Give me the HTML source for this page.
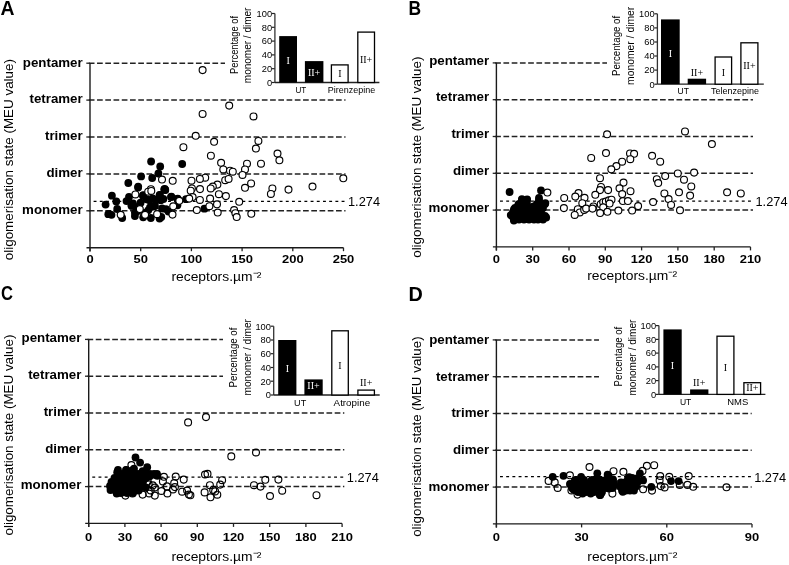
<!DOCTYPE html>
<html><head><meta charset="utf-8"><style>
html,body{margin:0;padding:0;background:#fff;width:789px;height:565px;overflow:hidden}
svg{display:block;will-change:transform}
</style></head><body>
<svg width="789" height="565" viewBox="0 0 789 565">
<rect width="789" height="565" fill="#fff"/>
<text x="0.5" y="14.9" font-size="19.6" font-weight="bold" text-anchor="start" fill="#000" font-family='"Liberation Sans", sans-serif' textLength="14" lengthAdjust="spacingAndGlyphs" >A</text>
<text x="13.2" y="260.2" font-size="13.6" font-weight="normal" text-anchor="start" fill="#000" font-family='"Liberation Sans", sans-serif' textLength="201.2" lengthAdjust="spacingAndGlyphs" transform="rotate(-90 13.2 260.2)" >oligomerisation state (MEU value)</text>
<text x="82.7" y="214.1" font-size="13.3" font-weight="bold" text-anchor="end" fill="#000" font-family='"Liberation Sans", sans-serif' >monomer</text>
<line x1="86.3" y1="210.8" x2="90.0" y2="210.8" stroke="#222" stroke-width="1.3"/>
<line x1="88.8" y1="210.8" x2="345.5" y2="210.8" stroke="#222" stroke-width="1.5" stroke-dasharray="5.7 2.54"/>
<text x="82.7" y="177.2" font-size="13.3" font-weight="bold" text-anchor="end" fill="#000" font-family='"Liberation Sans", sans-serif' >dimer</text>
<line x1="86.3" y1="173.9" x2="90.0" y2="173.9" stroke="#222" stroke-width="1.3"/>
<line x1="88.8" y1="173.9" x2="345.5" y2="173.9" stroke="#222" stroke-width="1.5" stroke-dasharray="5.7 2.54"/>
<text x="82.7" y="140.3" font-size="13.3" font-weight="bold" text-anchor="end" fill="#000" font-family='"Liberation Sans", sans-serif' >trimer</text>
<line x1="86.3" y1="137.0" x2="90.0" y2="137.0" stroke="#222" stroke-width="1.3"/>
<line x1="88.8" y1="137.0" x2="345.5" y2="137.0" stroke="#222" stroke-width="1.5" stroke-dasharray="5.7 2.54"/>
<text x="82.7" y="103.4" font-size="13.3" font-weight="bold" text-anchor="end" fill="#000" font-family='"Liberation Sans", sans-serif' >tetramer</text>
<line x1="86.3" y1="100.1" x2="90.0" y2="100.1" stroke="#222" stroke-width="1.3"/>
<line x1="88.8" y1="100.1" x2="345.5" y2="100.1" stroke="#222" stroke-width="1.5" stroke-dasharray="5.7 2.54"/>
<text x="82.7" y="66.5" font-size="13.3" font-weight="bold" text-anchor="end" fill="#000" font-family='"Liberation Sans", sans-serif' >pentamer</text>
<line x1="86.3" y1="63.2" x2="90.0" y2="63.2" stroke="#222" stroke-width="1.3"/>
<line x1="88.8" y1="63.2" x2="225.0" y2="63.2" stroke="#222" stroke-width="1.5" stroke-dasharray="5.7 2.54"/>
<line x1="93.6" y1="201.3" x2="345.5" y2="201.3" stroke="#000" stroke-width="1.25" stroke-dasharray="2.9 3.3"/>
<text x="348.0" y="206.3" font-size="12.8" font-weight="normal" text-anchor="start" fill="#000" font-family='"Liberation Sans", sans-serif' textLength="32" lengthAdjust="spacingAndGlyphs" >1.274</text>
<line x1="90.0" y1="63.2" x2="90.0" y2="251.4" stroke="#1a1a1a" stroke-width="1.4"/>
<line x1="86.5" y1="247.7" x2="343.5" y2="247.7" stroke="#1a1a1a" stroke-width="1.4"/>
<line x1="90.0" y1="247.7" x2="90.0" y2="251.2" stroke="#222" stroke-width="1.3"/>
<text x="90.0" y="263.3" font-size="11.8" font-weight="bold" text-anchor="middle" fill="#000" font-family='"Liberation Sans", sans-serif' textLength="7.2" lengthAdjust="spacingAndGlyphs" >0</text>
<line x1="140.7" y1="247.7" x2="140.7" y2="251.2" stroke="#222" stroke-width="1.3"/>
<text x="140.7" y="263.3" font-size="11.8" font-weight="bold" text-anchor="middle" fill="#000" font-family='"Liberation Sans", sans-serif' textLength="14.4" lengthAdjust="spacingAndGlyphs" >50</text>
<line x1="191.4" y1="247.7" x2="191.4" y2="251.2" stroke="#222" stroke-width="1.3"/>
<text x="191.4" y="263.3" font-size="11.8" font-weight="bold" text-anchor="middle" fill="#000" font-family='"Liberation Sans", sans-serif' textLength="21.6" lengthAdjust="spacingAndGlyphs" >100</text>
<line x1="242.1" y1="247.7" x2="242.1" y2="251.2" stroke="#222" stroke-width="1.3"/>
<text x="242.1" y="263.3" font-size="11.8" font-weight="bold" text-anchor="middle" fill="#000" font-family='"Liberation Sans", sans-serif' textLength="21.6" lengthAdjust="spacingAndGlyphs" >150</text>
<line x1="292.8" y1="247.7" x2="292.8" y2="251.2" stroke="#222" stroke-width="1.3"/>
<text x="292.8" y="263.3" font-size="11.8" font-weight="bold" text-anchor="middle" fill="#000" font-family='"Liberation Sans", sans-serif' textLength="21.6" lengthAdjust="spacingAndGlyphs" >200</text>
<line x1="343.5" y1="247.7" x2="343.5" y2="251.2" stroke="#222" stroke-width="1.3"/>
<text x="343.5" y="263.3" font-size="11.8" font-weight="bold" text-anchor="middle" fill="#000" font-family='"Liberation Sans", sans-serif' textLength="21.6" lengthAdjust="spacingAndGlyphs" >250</text>
<text x="171.4" y="280.6" font-size="13.2" font-weight="normal" text-anchor="start" fill="#000" font-family='"Liberation Sans", sans-serif' textLength="90" lengthAdjust="spacingAndGlyphs" >receptors.µm⁻²</text>
<circle cx="138.0" cy="207.0" r="3.9" fill="#000"/>
<circle cx="162.0" cy="208.5" r="3.9" fill="#000"/>
<circle cx="155.0" cy="206.0" r="3.9" fill="#000"/>
<circle cx="144.0" cy="213.0" r="3.9" fill="#000"/>
<circle cx="129.0" cy="197.0" r="3.9" fill="#000"/>
<circle cx="133.0" cy="203.5" r="3.9" fill="#000"/>
<circle cx="151.1" cy="161.5" r="3.9" fill="#000"/>
<circle cx="160.2" cy="166.4" r="3.9" fill="#000"/>
<circle cx="158.4" cy="173.5" r="3.9" fill="#000"/>
<circle cx="141.1" cy="176.4" r="3.9" fill="#000"/>
<circle cx="152.2" cy="178.0" r="3.9" fill="#000"/>
<circle cx="128.3" cy="183.0" r="3.9" fill="#000"/>
<circle cx="138.2" cy="186.6" r="3.9" fill="#000"/>
<circle cx="164.7" cy="188.8" r="3.9" fill="#000"/>
<circle cx="111.9" cy="195.7" r="3.9" fill="#000"/>
<circle cx="116.3" cy="201.5" r="3.9" fill="#000"/>
<circle cx="105.6" cy="204.6" r="3.9" fill="#000"/>
<circle cx="126.5" cy="201.1" r="3.9" fill="#000"/>
<circle cx="142.9" cy="195.7" r="3.9" fill="#000"/>
<circle cx="159.8" cy="194.8" r="3.9" fill="#000"/>
<circle cx="164.2" cy="189.5" r="3.9" fill="#000"/>
<circle cx="160.7" cy="200.2" r="3.9" fill="#000"/>
<circle cx="152.7" cy="198.4" r="3.9" fill="#000"/>
<circle cx="131.4" cy="205.5" r="3.9" fill="#000"/>
<circle cx="117.2" cy="209.0" r="3.9" fill="#000"/>
<circle cx="109.2" cy="213.9" r="3.9" fill="#000"/>
<circle cx="134.9" cy="212.6" r="3.9" fill="#000"/>
<circle cx="150.0" cy="207.3" r="3.9" fill="#000"/>
<circle cx="146.5" cy="199.3" r="3.9" fill="#000"/>
<circle cx="108.3" cy="214.2" r="3.9" fill="#000"/>
<circle cx="111.5" cy="214.8" r="3.9" fill="#000"/>
<circle cx="122.2" cy="218.0" r="3.9" fill="#000"/>
<circle cx="131.8" cy="205.9" r="3.9" fill="#000"/>
<circle cx="134.9" cy="216.1" r="3.9" fill="#000"/>
<circle cx="138.1" cy="187.5" r="3.9" fill="#000"/>
<circle cx="143.2" cy="195.1" r="3.9" fill="#000"/>
<circle cx="140.6" cy="202.7" r="3.9" fill="#000"/>
<circle cx="136.8" cy="211.6" r="3.9" fill="#000"/>
<circle cx="149.5" cy="200.2" r="3.9" fill="#000"/>
<circle cx="153.3" cy="206.5" r="3.9" fill="#000"/>
<circle cx="148.2" cy="210.3" r="3.9" fill="#000"/>
<circle cx="143.2" cy="217.3" r="3.9" fill="#000"/>
<circle cx="150.8" cy="218.0" r="3.9" fill="#000"/>
<circle cx="159.6" cy="218.6" r="3.9" fill="#000"/>
<circle cx="159.6" cy="195.1" r="3.9" fill="#000"/>
<circle cx="165.3" cy="190.1" r="3.9" fill="#000"/>
<circle cx="163.4" cy="199.0" r="3.9" fill="#000"/>
<circle cx="171.0" cy="197.0" r="3.9" fill="#000"/>
<circle cx="155.8" cy="200.2" r="3.9" fill="#000"/>
<circle cx="166.0" cy="209.1" r="3.9" fill="#000"/>
<circle cx="168.5" cy="211.6" r="3.9" fill="#000"/>
<circle cx="177.4" cy="199.0" r="3.9" fill="#000"/>
<circle cx="177.4" cy="205.3" r="3.9" fill="#000"/>
<circle cx="165.1" cy="189.7" r="3.9" fill="#000"/>
<circle cx="171.4" cy="196.7" r="3.9" fill="#000"/>
<circle cx="177.7" cy="198.6" r="3.9" fill="#000"/>
<circle cx="186.0" cy="199.2" r="3.9" fill="#000"/>
<circle cx="161.3" cy="217.0" r="3.9" fill="#000"/>
<circle cx="182.2" cy="164.0" r="3.9" fill="#000"/>
<circle cx="204.4" cy="208.7" r="3.9" fill="#000"/>
<circle cx="183.4" cy="147.2" r="3.45" fill="#fff" stroke="#000" stroke-width="1.15"/>
<circle cx="202.6" cy="70.1" r="3.45" fill="#fff" stroke="#000" stroke-width="1.15"/>
<circle cx="229.2" cy="105.6" r="3.45" fill="#fff" stroke="#000" stroke-width="1.15"/>
<circle cx="202.6" cy="113.9" r="3.45" fill="#fff" stroke="#000" stroke-width="1.15"/>
<circle cx="253.5" cy="116.4" r="3.45" fill="#fff" stroke="#000" stroke-width="1.15"/>
<circle cx="195.7" cy="135.8" r="3.45" fill="#fff" stroke="#000" stroke-width="1.15"/>
<circle cx="214.1" cy="141.8" r="3.45" fill="#fff" stroke="#000" stroke-width="1.15"/>
<circle cx="258.4" cy="140.9" r="3.45" fill="#fff" stroke="#000" stroke-width="1.15"/>
<circle cx="255.9" cy="148.5" r="3.45" fill="#fff" stroke="#000" stroke-width="1.15"/>
<circle cx="277.5" cy="153.6" r="3.45" fill="#fff" stroke="#000" stroke-width="1.15"/>
<circle cx="279.4" cy="160.3" r="3.45" fill="#fff" stroke="#000" stroke-width="1.15"/>
<circle cx="210.9" cy="155.7" r="3.45" fill="#fff" stroke="#000" stroke-width="1.15"/>
<circle cx="221.1" cy="162.8" r="3.45" fill="#fff" stroke="#000" stroke-width="1.15"/>
<circle cx="223.3" cy="169.4" r="3.45" fill="#fff" stroke="#000" stroke-width="1.15"/>
<circle cx="230.0" cy="170.7" r="3.45" fill="#fff" stroke="#000" stroke-width="1.15"/>
<circle cx="232.8" cy="171.7" r="3.45" fill="#fff" stroke="#000" stroke-width="1.15"/>
<circle cx="247.0" cy="163.7" r="3.45" fill="#fff" stroke="#000" stroke-width="1.15"/>
<circle cx="245.0" cy="169.4" r="3.45" fill="#fff" stroke="#000" stroke-width="1.15"/>
<circle cx="242.5" cy="174.9" r="3.45" fill="#fff" stroke="#000" stroke-width="1.15"/>
<circle cx="261.0" cy="163.7" r="3.45" fill="#fff" stroke="#000" stroke-width="1.15"/>
<circle cx="205.2" cy="177.7" r="3.45" fill="#fff" stroke="#000" stroke-width="1.15"/>
<circle cx="199.9" cy="178.9" r="3.45" fill="#fff" stroke="#000" stroke-width="1.15"/>
<circle cx="191.5" cy="180.7" r="3.45" fill="#fff" stroke="#000" stroke-width="1.15"/>
<circle cx="225.2" cy="180.2" r="3.45" fill="#fff" stroke="#000" stroke-width="1.15"/>
<circle cx="228.6" cy="178.9" r="3.45" fill="#fff" stroke="#000" stroke-width="1.15"/>
<circle cx="217.4" cy="184.6" r="3.45" fill="#fff" stroke="#000" stroke-width="1.15"/>
<circle cx="212.8" cy="186.5" r="3.45" fill="#fff" stroke="#000" stroke-width="1.15"/>
<circle cx="251.1" cy="183.4" r="3.45" fill="#fff" stroke="#000" stroke-width="1.15"/>
<circle cx="245.0" cy="187.8" r="3.45" fill="#fff" stroke="#000" stroke-width="1.15"/>
<circle cx="272.4" cy="188.4" r="3.45" fill="#fff" stroke="#000" stroke-width="1.15"/>
<circle cx="288.5" cy="189.6" r="3.45" fill="#fff" stroke="#000" stroke-width="1.15"/>
<circle cx="200.0" cy="189.1" r="3.45" fill="#fff" stroke="#000" stroke-width="1.15"/>
<circle cx="191.9" cy="188.4" r="3.45" fill="#fff" stroke="#000" stroke-width="1.15"/>
<circle cx="343.3" cy="178.3" r="3.45" fill="#fff" stroke="#000" stroke-width="1.15"/>
<circle cx="312.5" cy="186.5" r="3.45" fill="#fff" stroke="#000" stroke-width="1.15"/>
<circle cx="270.9" cy="193.9" r="3.45" fill="#fff" stroke="#000" stroke-width="1.15"/>
<circle cx="162.0" cy="179.5" r="3.45" fill="#fff" stroke="#000" stroke-width="1.15"/>
<circle cx="150.9" cy="189.2" r="3.45" fill="#fff" stroke="#000" stroke-width="1.15"/>
<circle cx="135.4" cy="194.4" r="3.45" fill="#fff" stroke="#000" stroke-width="1.15"/>
<circle cx="148.2" cy="191.7" r="3.45" fill="#fff" stroke="#000" stroke-width="1.15"/>
<circle cx="151.3" cy="190.9" r="3.45" fill="#fff" stroke="#000" stroke-width="1.15"/>
<circle cx="120.7" cy="214.8" r="3.45" fill="#fff" stroke="#000" stroke-width="1.15"/>
<circle cx="139.8" cy="209.0" r="3.45" fill="#fff" stroke="#000" stroke-width="1.15"/>
<circle cx="145.1" cy="214.8" r="3.45" fill="#fff" stroke="#000" stroke-width="1.15"/>
<circle cx="157.1" cy="214.2" r="3.45" fill="#fff" stroke="#000" stroke-width="1.15"/>
<circle cx="173.2" cy="206.3" r="3.45" fill="#fff" stroke="#000" stroke-width="1.15"/>
<circle cx="172.5" cy="214.6" r="3.45" fill="#fff" stroke="#000" stroke-width="1.15"/>
<circle cx="179.3" cy="200.8" r="3.45" fill="#fff" stroke="#000" stroke-width="1.15"/>
<circle cx="190.7" cy="190.7" r="3.45" fill="#fff" stroke="#000" stroke-width="1.15"/>
<circle cx="192.6" cy="197.0" r="3.45" fill="#fff" stroke="#000" stroke-width="1.15"/>
<circle cx="172.7" cy="180.8" r="3.45" fill="#fff" stroke="#000" stroke-width="1.15"/>
<circle cx="210.7" cy="188.4" r="3.45" fill="#fff" stroke="#000" stroke-width="1.15"/>
<circle cx="218.9" cy="194.2" r="3.45" fill="#fff" stroke="#000" stroke-width="1.15"/>
<circle cx="225.9" cy="196.1" r="3.45" fill="#fff" stroke="#000" stroke-width="1.15"/>
<circle cx="210.1" cy="198.6" r="3.45" fill="#fff" stroke="#000" stroke-width="1.15"/>
<circle cx="199.9" cy="199.9" r="3.45" fill="#fff" stroke="#000" stroke-width="1.15"/>
<circle cx="189.2" cy="198.6" r="3.45" fill="#fff" stroke="#000" stroke-width="1.15"/>
<circle cx="239.2" cy="201.8" r="3.45" fill="#fff" stroke="#000" stroke-width="1.15"/>
<circle cx="217.0" cy="204.3" r="3.45" fill="#fff" stroke="#000" stroke-width="1.15"/>
<circle cx="209.4" cy="206.2" r="3.45" fill="#fff" stroke="#000" stroke-width="1.15"/>
<circle cx="196.8" cy="210.0" r="3.45" fill="#fff" stroke="#000" stroke-width="1.15"/>
<circle cx="217.7" cy="212.5" r="3.45" fill="#fff" stroke="#000" stroke-width="1.15"/>
<circle cx="234.1" cy="210.0" r="3.45" fill="#fff" stroke="#000" stroke-width="1.15"/>
<circle cx="235.4" cy="213.2" r="3.45" fill="#fff" stroke="#000" stroke-width="1.15"/>
<circle cx="236.7" cy="217.0" r="3.45" fill="#fff" stroke="#000" stroke-width="1.15"/>
<circle cx="251.3" cy="213.8" r="3.45" fill="#fff" stroke="#000" stroke-width="1.15"/>
<text x="408.6" y="14.9" font-size="19.6" font-weight="bold" text-anchor="start" fill="#000" font-family='"Liberation Sans", sans-serif' textLength="12.6" lengthAdjust="spacingAndGlyphs" >B</text>
<text x="420.7" y="257.8" font-size="13.6" font-weight="normal" text-anchor="start" fill="#000" font-family='"Liberation Sans", sans-serif' textLength="201.2" lengthAdjust="spacingAndGlyphs" transform="rotate(-90 420.7 257.8)" >oligomerisation state (MEU value)</text>
<text x="489.1" y="211.7" font-size="13.3" font-weight="bold" text-anchor="end" fill="#000" font-family='"Liberation Sans", sans-serif' >monomer</text>
<line x1="492.7" y1="210.1" x2="496.4" y2="210.1" stroke="#222" stroke-width="1.3"/>
<line x1="495.2" y1="210.1" x2="753.0" y2="210.1" stroke="#222" stroke-width="1.5" stroke-dasharray="5.7 2.54"/>
<text x="489.1" y="174.9" font-size="13.3" font-weight="bold" text-anchor="end" fill="#000" font-family='"Liberation Sans", sans-serif' >dimer</text>
<line x1="492.7" y1="173.3" x2="496.4" y2="173.3" stroke="#222" stroke-width="1.3"/>
<line x1="495.2" y1="173.3" x2="753.0" y2="173.3" stroke="#222" stroke-width="1.5" stroke-dasharray="5.7 2.54"/>
<text x="489.1" y="138.1" font-size="13.3" font-weight="bold" text-anchor="end" fill="#000" font-family='"Liberation Sans", sans-serif' >trimer</text>
<line x1="492.7" y1="136.5" x2="496.4" y2="136.5" stroke="#222" stroke-width="1.3"/>
<line x1="495.2" y1="136.5" x2="753.0" y2="136.5" stroke="#222" stroke-width="1.5" stroke-dasharray="5.7 2.54"/>
<text x="489.1" y="101.3" font-size="13.3" font-weight="bold" text-anchor="end" fill="#000" font-family='"Liberation Sans", sans-serif' >tetramer</text>
<line x1="492.7" y1="99.7" x2="496.4" y2="99.7" stroke="#222" stroke-width="1.3"/>
<line x1="495.2" y1="99.7" x2="753.0" y2="99.7" stroke="#222" stroke-width="1.5" stroke-dasharray="5.7 2.54"/>
<text x="489.1" y="64.5" font-size="13.3" font-weight="bold" text-anchor="end" fill="#000" font-family='"Liberation Sans", sans-serif' >pentamer</text>
<line x1="492.7" y1="62.9" x2="496.4" y2="62.9" stroke="#222" stroke-width="1.3"/>
<line x1="495.2" y1="62.9" x2="607.0" y2="62.9" stroke="#222" stroke-width="1.5" stroke-dasharray="5.7 2.54"/>
<line x1="500.0" y1="201.2" x2="753.0" y2="201.2" stroke="#000" stroke-width="1.25" stroke-dasharray="2.9 3.3"/>
<text x="755.5" y="206.2" font-size="12.8" font-weight="normal" text-anchor="start" fill="#000" font-family='"Liberation Sans", sans-serif' textLength="32" lengthAdjust="spacingAndGlyphs" >1.274</text>
<line x1="496.4" y1="62.9" x2="496.4" y2="250.6" stroke="#1a1a1a" stroke-width="1.4"/>
<line x1="492.9" y1="246.9" x2="750.5" y2="246.9" stroke="#1a1a1a" stroke-width="1.4"/>
<line x1="496.4" y1="246.9" x2="496.4" y2="250.4" stroke="#222" stroke-width="1.3"/>
<text x="496.4" y="263.3" font-size="11.8" font-weight="bold" text-anchor="middle" fill="#000" font-family='"Liberation Sans", sans-serif' textLength="7.2" lengthAdjust="spacingAndGlyphs" >0</text>
<line x1="532.7" y1="246.9" x2="532.7" y2="250.4" stroke="#222" stroke-width="1.3"/>
<text x="532.7" y="263.3" font-size="11.8" font-weight="bold" text-anchor="middle" fill="#000" font-family='"Liberation Sans", sans-serif' textLength="14.4" lengthAdjust="spacingAndGlyphs" >30</text>
<line x1="569.0" y1="246.9" x2="569.0" y2="250.4" stroke="#222" stroke-width="1.3"/>
<text x="569.0" y="263.3" font-size="11.8" font-weight="bold" text-anchor="middle" fill="#000" font-family='"Liberation Sans", sans-serif' textLength="14.4" lengthAdjust="spacingAndGlyphs" >60</text>
<line x1="605.3" y1="246.9" x2="605.3" y2="250.4" stroke="#222" stroke-width="1.3"/>
<text x="605.3" y="263.3" font-size="11.8" font-weight="bold" text-anchor="middle" fill="#000" font-family='"Liberation Sans", sans-serif' textLength="14.4" lengthAdjust="spacingAndGlyphs" >90</text>
<line x1="641.6" y1="246.9" x2="641.6" y2="250.4" stroke="#222" stroke-width="1.3"/>
<text x="641.6" y="263.3" font-size="11.8" font-weight="bold" text-anchor="middle" fill="#000" font-family='"Liberation Sans", sans-serif' textLength="21.6" lengthAdjust="spacingAndGlyphs" >120</text>
<line x1="677.9" y1="246.9" x2="677.9" y2="250.4" stroke="#222" stroke-width="1.3"/>
<text x="677.9" y="263.3" font-size="11.8" font-weight="bold" text-anchor="middle" fill="#000" font-family='"Liberation Sans", sans-serif' textLength="21.6" lengthAdjust="spacingAndGlyphs" >150</text>
<line x1="714.2" y1="246.9" x2="714.2" y2="250.4" stroke="#222" stroke-width="1.3"/>
<text x="714.2" y="263.3" font-size="11.8" font-weight="bold" text-anchor="middle" fill="#000" font-family='"Liberation Sans", sans-serif' textLength="21.6" lengthAdjust="spacingAndGlyphs" >180</text>
<line x1="750.5" y1="246.9" x2="750.5" y2="250.4" stroke="#222" stroke-width="1.3"/>
<text x="750.5" y="263.3" font-size="11.8" font-weight="bold" text-anchor="middle" fill="#000" font-family='"Liberation Sans", sans-serif' textLength="21.6" lengthAdjust="spacingAndGlyphs" >210</text>
<text x="587.2" y="280.1" font-size="13.2" font-weight="normal" text-anchor="start" fill="#000" font-family='"Liberation Sans", sans-serif' textLength="90" lengthAdjust="spacingAndGlyphs" >receptors.µm⁻²</text>
<circle cx="509.6" cy="192.0" r="3.9" fill="#000"/>
<circle cx="541.0" cy="190.4" r="3.9" fill="#000"/>
<circle cx="521.9" cy="199.1" r="3.9" fill="#000"/>
<circle cx="527.1" cy="199.5" r="3.9" fill="#000"/>
<circle cx="539.0" cy="197.9" r="3.9" fill="#000"/>
<circle cx="545.4" cy="203.1" r="3.9" fill="#000"/>
<circle cx="546.2" cy="217.5" r="3.9" fill="#000"/>
<circle cx="513.9" cy="220.6" r="3.9" fill="#000"/>
<circle cx="510.8" cy="215.1" r="3.9" fill="#000"/>
<circle cx="513.9" cy="209.5" r="3.9" fill="#000"/>
<circle cx="518.3" cy="204.7" r="3.9" fill="#000"/>
<circle cx="533.5" cy="206.3" r="3.9" fill="#000"/>
<circle cx="526.3" cy="219.0" r="3.9" fill="#000"/>
<circle cx="535.9" cy="218.2" r="3.9" fill="#000"/>
<circle cx="522.3" cy="213.5" r="3.9" fill="#000"/>
<circle cx="530.3" cy="213.5" r="3.9" fill="#000"/>
<circle cx="539.8" cy="211.9" r="3.9" fill="#000"/>
<circle cx="518.3" cy="216.7" r="3.9" fill="#000"/>
<circle cx="542.2" cy="207.1" r="3.9" fill="#000"/>
<circle cx="537.5" cy="203.9" r="3.9" fill="#000"/>
<circle cx="522.0" cy="200.0" r="3.9" fill="#000"/>
<circle cx="527.0" cy="200.0" r="3.9" fill="#000"/>
<circle cx="539.0" cy="200.0" r="3.9" fill="#000"/>
<circle cx="519.0" cy="204.0" r="3.9" fill="#000"/>
<circle cx="523.0" cy="204.0" r="3.9" fill="#000"/>
<circle cx="527.0" cy="204.0" r="3.9" fill="#000"/>
<circle cx="537.0" cy="204.0" r="3.9" fill="#000"/>
<circle cx="541.0" cy="204.0" r="3.9" fill="#000"/>
<circle cx="545.0" cy="204.0" r="3.9" fill="#000"/>
<circle cx="515.0" cy="208.0" r="3.9" fill="#000"/>
<circle cx="519.0" cy="208.0" r="3.9" fill="#000"/>
<circle cx="523.0" cy="208.0" r="3.9" fill="#000"/>
<circle cx="527.0" cy="208.0" r="3.9" fill="#000"/>
<circle cx="531.0" cy="208.0" r="3.9" fill="#000"/>
<circle cx="535.0" cy="208.0" r="3.9" fill="#000"/>
<circle cx="539.0" cy="208.0" r="3.9" fill="#000"/>
<circle cx="543.0" cy="208.0" r="3.9" fill="#000"/>
<circle cx="513.0" cy="212.0" r="3.9" fill="#000"/>
<circle cx="517.0" cy="212.0" r="3.9" fill="#000"/>
<circle cx="521.0" cy="212.0" r="3.9" fill="#000"/>
<circle cx="525.0" cy="212.0" r="3.9" fill="#000"/>
<circle cx="529.0" cy="212.0" r="3.9" fill="#000"/>
<circle cx="533.0" cy="212.0" r="3.9" fill="#000"/>
<circle cx="537.0" cy="212.0" r="3.9" fill="#000"/>
<circle cx="541.0" cy="212.0" r="3.9" fill="#000"/>
<circle cx="512.0" cy="216.0" r="3.9" fill="#000"/>
<circle cx="516.0" cy="216.0" r="3.9" fill="#000"/>
<circle cx="520.0" cy="216.0" r="3.9" fill="#000"/>
<circle cx="524.0" cy="216.0" r="3.9" fill="#000"/>
<circle cx="528.0" cy="216.0" r="3.9" fill="#000"/>
<circle cx="532.0" cy="216.0" r="3.9" fill="#000"/>
<circle cx="536.0" cy="216.0" r="3.9" fill="#000"/>
<circle cx="540.0" cy="216.0" r="3.9" fill="#000"/>
<circle cx="545.0" cy="216.0" r="3.9" fill="#000"/>
<circle cx="514.0" cy="219.5" r="3.9" fill="#000"/>
<circle cx="519.0" cy="219.5" r="3.9" fill="#000"/>
<circle cx="524.0" cy="219.5" r="3.9" fill="#000"/>
<circle cx="529.0" cy="219.5" r="3.9" fill="#000"/>
<circle cx="534.0" cy="219.5" r="3.9" fill="#000"/>
<circle cx="538.0" cy="219.5" r="3.9" fill="#000"/>
<circle cx="543.0" cy="219.5" r="3.9" fill="#000"/>
<circle cx="607.1" cy="134.3" r="3.45" fill="#fff" stroke="#000" stroke-width="1.15"/>
<circle cx="606.0" cy="153.0" r="3.45" fill="#fff" stroke="#000" stroke-width="1.15"/>
<circle cx="591.2" cy="157.9" r="3.45" fill="#fff" stroke="#000" stroke-width="1.15"/>
<circle cx="630.0" cy="153.4" r="3.45" fill="#fff" stroke="#000" stroke-width="1.15"/>
<circle cx="634.1" cy="153.8" r="3.45" fill="#fff" stroke="#000" stroke-width="1.15"/>
<circle cx="630.3" cy="159.2" r="3.45" fill="#fff" stroke="#000" stroke-width="1.15"/>
<circle cx="622.1" cy="161.7" r="3.45" fill="#fff" stroke="#000" stroke-width="1.15"/>
<circle cx="616.4" cy="166.1" r="3.45" fill="#fff" stroke="#000" stroke-width="1.15"/>
<circle cx="611.3" cy="169.3" r="3.45" fill="#fff" stroke="#000" stroke-width="1.15"/>
<circle cx="600.0" cy="178.2" r="3.45" fill="#fff" stroke="#000" stroke-width="1.15"/>
<circle cx="601.0" cy="186.9" r="3.45" fill="#fff" stroke="#000" stroke-width="1.15"/>
<circle cx="600.0" cy="190.1" r="3.45" fill="#fff" stroke="#000" stroke-width="1.15"/>
<circle cx="608.1" cy="190.1" r="3.45" fill="#fff" stroke="#000" stroke-width="1.15"/>
<circle cx="595.3" cy="194.8" r="3.45" fill="#fff" stroke="#000" stroke-width="1.15"/>
<circle cx="547.4" cy="192.5" r="3.45" fill="#fff" stroke="#000" stroke-width="1.15"/>
<circle cx="564.2" cy="197.9" r="3.45" fill="#fff" stroke="#000" stroke-width="1.15"/>
<circle cx="578.5" cy="193.0" r="3.45" fill="#fff" stroke="#000" stroke-width="1.15"/>
<circle cx="575.3" cy="196.5" r="3.45" fill="#fff" stroke="#000" stroke-width="1.15"/>
<circle cx="584.5" cy="197.8" r="3.45" fill="#fff" stroke="#000" stroke-width="1.15"/>
<circle cx="582.3" cy="203.2" r="3.45" fill="#fff" stroke="#000" stroke-width="1.15"/>
<circle cx="563.9" cy="208.1" r="3.45" fill="#fff" stroke="#000" stroke-width="1.15"/>
<circle cx="577.8" cy="209.2" r="3.45" fill="#fff" stroke="#000" stroke-width="1.15"/>
<circle cx="593.4" cy="206.4" r="3.45" fill="#fff" stroke="#000" stroke-width="1.15"/>
<circle cx="623.5" cy="182.6" r="3.45" fill="#fff" stroke="#000" stroke-width="1.15"/>
<circle cx="619.5" cy="188.3" r="3.45" fill="#fff" stroke="#000" stroke-width="1.15"/>
<circle cx="630.5" cy="191.2" r="3.45" fill="#fff" stroke="#000" stroke-width="1.15"/>
<circle cx="622.2" cy="194.0" r="3.45" fill="#fff" stroke="#000" stroke-width="1.15"/>
<circle cx="622.9" cy="201.0" r="3.45" fill="#fff" stroke="#000" stroke-width="1.15"/>
<circle cx="627.9" cy="201.0" r="3.45" fill="#fff" stroke="#000" stroke-width="1.15"/>
<circle cx="638.1" cy="206.1" r="3.45" fill="#fff" stroke="#000" stroke-width="1.15"/>
<circle cx="632.1" cy="210.5" r="3.45" fill="#fff" stroke="#000" stroke-width="1.15"/>
<circle cx="618.4" cy="210.5" r="3.45" fill="#fff" stroke="#000" stroke-width="1.15"/>
<circle cx="579.8" cy="212.4" r="3.45" fill="#fff" stroke="#000" stroke-width="1.15"/>
<circle cx="574.7" cy="214.9" r="3.45" fill="#fff" stroke="#000" stroke-width="1.15"/>
<circle cx="584.2" cy="209.9" r="3.45" fill="#fff" stroke="#000" stroke-width="1.15"/>
<circle cx="586.1" cy="208.6" r="3.45" fill="#fff" stroke="#000" stroke-width="1.15"/>
<circle cx="592.5" cy="208.6" r="3.45" fill="#fff" stroke="#000" stroke-width="1.15"/>
<circle cx="600.7" cy="204.2" r="3.45" fill="#fff" stroke="#000" stroke-width="1.15"/>
<circle cx="603.2" cy="202.2" r="3.45" fill="#fff" stroke="#000" stroke-width="1.15"/>
<circle cx="605.8" cy="201.6" r="3.45" fill="#fff" stroke="#000" stroke-width="1.15"/>
<circle cx="608.9" cy="200.3" r="3.45" fill="#fff" stroke="#000" stroke-width="1.15"/>
<circle cx="611.5" cy="199.7" r="3.45" fill="#fff" stroke="#000" stroke-width="1.15"/>
<circle cx="609.6" cy="203.5" r="3.45" fill="#fff" stroke="#000" stroke-width="1.15"/>
<circle cx="603.2" cy="207.3" r="3.45" fill="#fff" stroke="#000" stroke-width="1.15"/>
<circle cx="600.1" cy="213.0" r="3.45" fill="#fff" stroke="#000" stroke-width="1.15"/>
<circle cx="607.4" cy="211.8" r="3.45" fill="#fff" stroke="#000" stroke-width="1.15"/>
<circle cx="685.0" cy="131.4" r="3.45" fill="#fff" stroke="#000" stroke-width="1.15"/>
<circle cx="711.9" cy="144.0" r="3.45" fill="#fff" stroke="#000" stroke-width="1.15"/>
<circle cx="652.1" cy="155.8" r="3.45" fill="#fff" stroke="#000" stroke-width="1.15"/>
<circle cx="660.2" cy="161.7" r="3.45" fill="#fff" stroke="#000" stroke-width="1.15"/>
<circle cx="665.2" cy="176.0" r="3.45" fill="#fff" stroke="#000" stroke-width="1.15"/>
<circle cx="656.8" cy="179.2" r="3.45" fill="#fff" stroke="#000" stroke-width="1.15"/>
<circle cx="658.2" cy="183.0" r="3.45" fill="#fff" stroke="#000" stroke-width="1.15"/>
<circle cx="677.8" cy="173.4" r="3.45" fill="#fff" stroke="#000" stroke-width="1.15"/>
<circle cx="694.1" cy="172.6" r="3.45" fill="#fff" stroke="#000" stroke-width="1.15"/>
<circle cx="684.0" cy="179.7" r="3.45" fill="#fff" stroke="#000" stroke-width="1.15"/>
<circle cx="691.3" cy="186.4" r="3.45" fill="#fff" stroke="#000" stroke-width="1.15"/>
<circle cx="664.4" cy="193.4" r="3.45" fill="#fff" stroke="#000" stroke-width="1.15"/>
<circle cx="679.0" cy="192.3" r="3.45" fill="#fff" stroke="#000" stroke-width="1.15"/>
<circle cx="690.1" cy="195.6" r="3.45" fill="#fff" stroke="#000" stroke-width="1.15"/>
<circle cx="668.6" cy="199.0" r="3.45" fill="#fff" stroke="#000" stroke-width="1.15"/>
<circle cx="671.1" cy="204.9" r="3.45" fill="#fff" stroke="#000" stroke-width="1.15"/>
<circle cx="653.1" cy="202.0" r="3.45" fill="#fff" stroke="#000" stroke-width="1.15"/>
<circle cx="680.0" cy="210.3" r="3.45" fill="#fff" stroke="#000" stroke-width="1.15"/>
<circle cx="727.1" cy="192.3" r="3.45" fill="#fff" stroke="#000" stroke-width="1.15"/>
<circle cx="740.8" cy="193.4" r="3.45" fill="#fff" stroke="#000" stroke-width="1.15"/>
<text x="1.0" y="300.3" font-size="19.6" font-weight="bold" text-anchor="start" fill="#000" font-family='"Liberation Sans", sans-serif' textLength="12" lengthAdjust="spacingAndGlyphs" >C</text>
<text x="13.2" y="535.5" font-size="13.6" font-weight="normal" text-anchor="start" fill="#000" font-family='"Liberation Sans", sans-serif' textLength="200.9" lengthAdjust="spacingAndGlyphs" transform="rotate(-90 13.2 535.5)" >oligomerisation state (MEU value)</text>
<text x="81.4" y="489.4" font-size="13.3" font-weight="bold" text-anchor="end" fill="#000" font-family='"Liberation Sans", sans-serif' >monomer</text>
<line x1="85.0" y1="486.6" x2="88.7" y2="486.6" stroke="#222" stroke-width="1.3"/>
<line x1="87.5" y1="486.6" x2="344.3" y2="486.6" stroke="#222" stroke-width="1.5" stroke-dasharray="5.7 2.54"/>
<text x="81.4" y="452.6" font-size="13.3" font-weight="bold" text-anchor="end" fill="#000" font-family='"Liberation Sans", sans-serif' >dimer</text>
<line x1="85.0" y1="449.8" x2="88.7" y2="449.8" stroke="#222" stroke-width="1.3"/>
<line x1="87.5" y1="449.8" x2="344.3" y2="449.8" stroke="#222" stroke-width="1.5" stroke-dasharray="5.7 2.54"/>
<text x="81.4" y="415.8" font-size="13.3" font-weight="bold" text-anchor="end" fill="#000" font-family='"Liberation Sans", sans-serif' >trimer</text>
<line x1="85.0" y1="413.0" x2="88.7" y2="413.0" stroke="#222" stroke-width="1.3"/>
<line x1="87.5" y1="413.0" x2="344.3" y2="413.0" stroke="#222" stroke-width="1.5" stroke-dasharray="5.7 2.54"/>
<text x="81.4" y="379.0" font-size="13.3" font-weight="bold" text-anchor="end" fill="#000" font-family='"Liberation Sans", sans-serif' >tetramer</text>
<line x1="85.0" y1="376.2" x2="88.7" y2="376.2" stroke="#222" stroke-width="1.3"/>
<line x1="87.5" y1="376.2" x2="223.0" y2="376.2" stroke="#222" stroke-width="1.5" stroke-dasharray="5.7 2.54"/>
<text x="81.4" y="342.2" font-size="13.3" font-weight="bold" text-anchor="end" fill="#000" font-family='"Liberation Sans", sans-serif' >pentamer</text>
<line x1="85.0" y1="339.4" x2="88.7" y2="339.4" stroke="#222" stroke-width="1.3"/>
<line x1="87.5" y1="339.4" x2="223.0" y2="339.4" stroke="#222" stroke-width="1.5" stroke-dasharray="5.7 2.54"/>
<line x1="92.3" y1="477.1" x2="344.3" y2="477.1" stroke="#000" stroke-width="1.25" stroke-dasharray="2.9 3.3"/>
<text x="346.8" y="482.1" font-size="12.8" font-weight="normal" text-anchor="start" fill="#000" font-family='"Liberation Sans", sans-serif' textLength="32" lengthAdjust="spacingAndGlyphs" >1.274</text>
<line x1="88.7" y1="339.4" x2="88.7" y2="527.1" stroke="#1a1a1a" stroke-width="1.4"/>
<line x1="85.2" y1="523.4" x2="342.1" y2="523.4" stroke="#1a1a1a" stroke-width="1.4"/>
<line x1="88.7" y1="523.4" x2="88.7" y2="526.9" stroke="#222" stroke-width="1.3"/>
<text x="88.7" y="541.3" font-size="11.8" font-weight="bold" text-anchor="middle" fill="#000" font-family='"Liberation Sans", sans-serif' textLength="7.2" lengthAdjust="spacingAndGlyphs" >0</text>
<line x1="124.9" y1="523.4" x2="124.9" y2="526.9" stroke="#222" stroke-width="1.3"/>
<text x="124.9" y="541.3" font-size="11.8" font-weight="bold" text-anchor="middle" fill="#000" font-family='"Liberation Sans", sans-serif' textLength="14.4" lengthAdjust="spacingAndGlyphs" >30</text>
<line x1="161.1" y1="523.4" x2="161.1" y2="526.9" stroke="#222" stroke-width="1.3"/>
<text x="161.1" y="541.3" font-size="11.8" font-weight="bold" text-anchor="middle" fill="#000" font-family='"Liberation Sans", sans-serif' textLength="14.4" lengthAdjust="spacingAndGlyphs" >60</text>
<line x1="197.3" y1="523.4" x2="197.3" y2="526.9" stroke="#222" stroke-width="1.3"/>
<text x="197.3" y="541.3" font-size="11.8" font-weight="bold" text-anchor="middle" fill="#000" font-family='"Liberation Sans", sans-serif' textLength="14.4" lengthAdjust="spacingAndGlyphs" >90</text>
<line x1="233.5" y1="523.4" x2="233.5" y2="526.9" stroke="#222" stroke-width="1.3"/>
<text x="233.5" y="541.3" font-size="11.8" font-weight="bold" text-anchor="middle" fill="#000" font-family='"Liberation Sans", sans-serif' textLength="21.6" lengthAdjust="spacingAndGlyphs" >120</text>
<line x1="269.7" y1="523.4" x2="269.7" y2="526.9" stroke="#222" stroke-width="1.3"/>
<text x="269.7" y="541.3" font-size="11.8" font-weight="bold" text-anchor="middle" fill="#000" font-family='"Liberation Sans", sans-serif' textLength="21.6" lengthAdjust="spacingAndGlyphs" >150</text>
<line x1="305.9" y1="523.4" x2="305.9" y2="526.9" stroke="#222" stroke-width="1.3"/>
<text x="305.9" y="541.3" font-size="11.8" font-weight="bold" text-anchor="middle" fill="#000" font-family='"Liberation Sans", sans-serif' textLength="21.6" lengthAdjust="spacingAndGlyphs" >180</text>
<line x1="342.1" y1="523.4" x2="342.1" y2="526.9" stroke="#222" stroke-width="1.3"/>
<text x="342.1" y="541.3" font-size="11.8" font-weight="bold" text-anchor="middle" fill="#000" font-family='"Liberation Sans", sans-serif' textLength="21.6" lengthAdjust="spacingAndGlyphs" >210</text>
<text x="171.4" y="560.6" font-size="13.2" font-weight="normal" text-anchor="start" fill="#000" font-family='"Liberation Sans", sans-serif' textLength="90" lengthAdjust="spacingAndGlyphs" >receptors.µm⁻²</text>
<circle cx="131.4" cy="465.1" r="3.45" fill="none" stroke="#000" stroke-width="1.15"/>
<circle cx="125.4" cy="495.6" r="3.45" fill="none" stroke="#000" stroke-width="1.15"/>
<circle cx="132.5" cy="493.5" r="3.45" fill="none" stroke="#000" stroke-width="1.15"/>
<circle cx="142.6" cy="494.6" r="3.45" fill="none" stroke="#000" stroke-width="1.15"/>
<circle cx="154.8" cy="495.6" r="3.45" fill="none" stroke="#000" stroke-width="1.15"/>
<circle cx="161.4" cy="491.0" r="3.45" fill="none" stroke="#000" stroke-width="1.15"/>
<circle cx="167.4" cy="493.5" r="3.45" fill="none" stroke="#000" stroke-width="1.15"/>
<circle cx="163.9" cy="476.8" r="3.45" fill="none" stroke="#000" stroke-width="1.15"/>
<circle cx="162.9" cy="481.4" r="3.45" fill="none" stroke="#000" stroke-width="1.15"/>
<circle cx="166.9" cy="486.4" r="3.45" fill="none" stroke="#000" stroke-width="1.15"/>
<circle cx="175.7" cy="476.6" r="3.45" fill="none" stroke="#000" stroke-width="1.15"/>
<circle cx="174.2" cy="483.0" r="3.45" fill="none" stroke="#000" stroke-width="1.15"/>
<circle cx="174.9" cy="487.1" r="3.45" fill="none" stroke="#000" stroke-width="1.15"/>
<circle cx="173.0" cy="489.5" r="3.45" fill="none" stroke="#000" stroke-width="1.15"/>
<circle cx="148.7" cy="484.4" r="3.45" fill="none" stroke="#000" stroke-width="1.15"/>
<circle cx="152.7" cy="485.4" r="3.45" fill="none" stroke="#000" stroke-width="1.15"/>
<circle cx="154.8" cy="487.5" r="3.45" fill="none" stroke="#000" stroke-width="1.15"/>
<circle cx="150.7" cy="490.5" r="3.45" fill="none" stroke="#000" stroke-width="1.15"/>
<circle cx="147.7" cy="481.4" r="3.45" fill="none" stroke="#000" stroke-width="1.15"/>
<circle cx="149.2" cy="493.5" r="3.45" fill="none" stroke="#000" stroke-width="1.15"/>
<circle cx="183.7" cy="479.6" r="3.45" fill="none" stroke="#000" stroke-width="1.15"/>
<circle cx="182.1" cy="491.7" r="3.45" fill="none" stroke="#000" stroke-width="1.15"/>
<circle cx="188.9" cy="494.5" r="3.45" fill="none" stroke="#000" stroke-width="1.15"/>
<circle cx="188.1" cy="422.4" r="3.45" fill="none" stroke="#000" stroke-width="1.15"/>
<circle cx="206.0" cy="417.1" r="3.45" fill="none" stroke="#000" stroke-width="1.15"/>
<circle cx="231.3" cy="456.4" r="3.45" fill="none" stroke="#000" stroke-width="1.15"/>
<circle cx="256.0" cy="452.5" r="3.45" fill="none" stroke="#000" stroke-width="1.15"/>
<circle cx="265.3" cy="479.8" r="3.45" fill="none" stroke="#000" stroke-width="1.15"/>
<circle cx="254.0" cy="485.2" r="3.45" fill="none" stroke="#000" stroke-width="1.15"/>
<circle cx="260.5" cy="486.6" r="3.45" fill="none" stroke="#000" stroke-width="1.15"/>
<circle cx="205.0" cy="474.5" r="3.45" fill="none" stroke="#000" stroke-width="1.15"/>
<circle cx="207.5" cy="473.9" r="3.45" fill="none" stroke="#000" stroke-width="1.15"/>
<circle cx="222.1" cy="480.2" r="3.45" fill="none" stroke="#000" stroke-width="1.15"/>
<circle cx="220.2" cy="484.6" r="3.45" fill="none" stroke="#000" stroke-width="1.15"/>
<circle cx="209.9" cy="485.2" r="3.45" fill="none" stroke="#000" stroke-width="1.15"/>
<circle cx="213.2" cy="489.9" r="3.45" fill="none" stroke="#000" stroke-width="1.15"/>
<circle cx="215.1" cy="491.4" r="3.45" fill="none" stroke="#000" stroke-width="1.15"/>
<circle cx="204.6" cy="492.4" r="3.45" fill="none" stroke="#000" stroke-width="1.15"/>
<circle cx="210.5" cy="497.3" r="3.45" fill="none" stroke="#000" stroke-width="1.15"/>
<circle cx="217.3" cy="494.7" r="3.45" fill="none" stroke="#000" stroke-width="1.15"/>
<circle cx="187.1" cy="490.5" r="3.45" fill="none" stroke="#000" stroke-width="1.15"/>
<circle cx="190.4" cy="495.3" r="3.45" fill="none" stroke="#000" stroke-width="1.15"/>
<circle cx="278.4" cy="479.6" r="3.45" fill="none" stroke="#000" stroke-width="1.15"/>
<circle cx="282.2" cy="490.7" r="3.45" fill="none" stroke="#000" stroke-width="1.15"/>
<circle cx="270.0" cy="496.0" r="3.45" fill="none" stroke="#000" stroke-width="1.15"/>
<circle cx="316.5" cy="495.2" r="3.45" fill="none" stroke="#000" stroke-width="1.15"/>
<circle cx="135.5" cy="457.5" r="3.9" fill="#000"/>
<circle cx="140.1" cy="462.6" r="3.9" fill="#000"/>
<circle cx="147.2" cy="467.2" r="3.9" fill="#000"/>
<circle cx="142.6" cy="471.2" r="3.9" fill="#000"/>
<circle cx="154.8" cy="474.8" r="3.9" fill="#000"/>
<circle cx="157.3" cy="475.8" r="3.9" fill="#000"/>
<circle cx="149.7" cy="476.3" r="3.9" fill="#000"/>
<circle cx="134.0" cy="468.7" r="3.9" fill="#000"/>
<circle cx="126.4" cy="470.2" r="3.9" fill="#000"/>
<circle cx="117.2" cy="472.2" r="3.9" fill="#000"/>
<circle cx="116.7" cy="493.5" r="3.9" fill="#000"/>
<circle cx="125.4" cy="491.5" r="3.9" fill="#000"/>
<circle cx="134.5" cy="486.4" r="3.9" fill="#000"/>
<circle cx="140.6" cy="482.4" r="3.9" fill="#000"/>
<circle cx="120.3" cy="481.4" r="3.9" fill="#000"/>
<circle cx="118.0" cy="470.0" r="3.9" fill="#000"/>
<circle cx="126.0" cy="470.0" r="3.9" fill="#000"/>
<circle cx="133.0" cy="470.0" r="3.9" fill="#000"/>
<circle cx="118.0" cy="474.0" r="3.9" fill="#000"/>
<circle cx="122.0" cy="474.0" r="3.9" fill="#000"/>
<circle cx="126.0" cy="474.0" r="3.9" fill="#000"/>
<circle cx="130.0" cy="474.0" r="3.9" fill="#000"/>
<circle cx="134.0" cy="474.0" r="3.9" fill="#000"/>
<circle cx="138.0" cy="474.0" r="3.9" fill="#000"/>
<circle cx="142.0" cy="474.0" r="3.9" fill="#000"/>
<circle cx="146.0" cy="474.0" r="3.9" fill="#000"/>
<circle cx="150.0" cy="474.0" r="3.9" fill="#000"/>
<circle cx="154.0" cy="474.0" r="3.9" fill="#000"/>
<circle cx="157.0" cy="474.0" r="3.9" fill="#000"/>
<circle cx="114.5" cy="478.0" r="3.9" fill="#000"/>
<circle cx="118.0" cy="478.0" r="3.9" fill="#000"/>
<circle cx="122.0" cy="478.0" r="3.9" fill="#000"/>
<circle cx="126.0" cy="478.0" r="3.9" fill="#000"/>
<circle cx="130.0" cy="478.0" r="3.9" fill="#000"/>
<circle cx="134.0" cy="478.0" r="3.9" fill="#000"/>
<circle cx="138.0" cy="478.0" r="3.9" fill="#000"/>
<circle cx="142.0" cy="478.0" r="3.9" fill="#000"/>
<circle cx="146.0" cy="478.0" r="3.9" fill="#000"/>
<circle cx="111.5" cy="482.0" r="3.9" fill="#000"/>
<circle cx="115.0" cy="482.0" r="3.9" fill="#000"/>
<circle cx="119.0" cy="482.0" r="3.9" fill="#000"/>
<circle cx="123.0" cy="482.0" r="3.9" fill="#000"/>
<circle cx="127.0" cy="482.0" r="3.9" fill="#000"/>
<circle cx="131.0" cy="482.0" r="3.9" fill="#000"/>
<circle cx="135.0" cy="482.0" r="3.9" fill="#000"/>
<circle cx="139.0" cy="482.0" r="3.9" fill="#000"/>
<circle cx="143.0" cy="482.0" r="3.9" fill="#000"/>
<circle cx="110.0" cy="486.0" r="3.9" fill="#000"/>
<circle cx="114.0" cy="486.0" r="3.9" fill="#000"/>
<circle cx="118.0" cy="486.0" r="3.9" fill="#000"/>
<circle cx="122.0" cy="486.0" r="3.9" fill="#000"/>
<circle cx="126.0" cy="486.0" r="3.9" fill="#000"/>
<circle cx="130.0" cy="486.0" r="3.9" fill="#000"/>
<circle cx="134.0" cy="486.0" r="3.9" fill="#000"/>
<circle cx="138.0" cy="486.0" r="3.9" fill="#000"/>
<circle cx="142.0" cy="486.0" r="3.9" fill="#000"/>
<circle cx="110.5" cy="490.0" r="3.9" fill="#000"/>
<circle cx="115.0" cy="490.0" r="3.9" fill="#000"/>
<circle cx="119.0" cy="490.0" r="3.9" fill="#000"/>
<circle cx="123.0" cy="490.0" r="3.9" fill="#000"/>
<circle cx="127.0" cy="490.0" r="3.9" fill="#000"/>
<circle cx="131.0" cy="490.0" r="3.9" fill="#000"/>
<circle cx="135.0" cy="490.0" r="3.9" fill="#000"/>
<circle cx="139.0" cy="490.0" r="3.9" fill="#000"/>
<circle cx="117.0" cy="493.0" r="3.9" fill="#000"/>
<circle cx="121.0" cy="493.0" r="3.9" fill="#000"/>
<circle cx="127.0" cy="493.0" r="3.9" fill="#000"/>
<circle cx="133.0" cy="493.0" r="3.9" fill="#000"/>
<circle cx="128.4" cy="479.3" r="3.9" fill="#000"/>
<circle cx="135.5" cy="477.3" r="3.9" fill="#000"/>
<circle cx="142.6" cy="479.3" r="3.9" fill="#000"/>
<circle cx="120.3" cy="488.5" r="3.9" fill="#000"/>
<circle cx="128.4" cy="487.5" r="3.9" fill="#000"/>
<circle cx="138.5" cy="490.5" r="3.9" fill="#000"/>
<circle cx="145.6" cy="487.5" r="3.9" fill="#000"/>
<circle cx="123.3" cy="475.3" r="3.9" fill="#000"/>
<circle cx="131.4" cy="474.3" r="3.9" fill="#000"/>
<circle cx="139.6" cy="475.3" r="3.9" fill="#000"/>
<circle cx="114.2" cy="485.4" r="3.9" fill="#000"/>
<text x="408.4" y="300.8" font-size="19.6" font-weight="bold" text-anchor="start" fill="#000" font-family='"Liberation Sans", sans-serif' textLength="14.3" lengthAdjust="spacingAndGlyphs" >D</text>
<text x="420.7" y="536.8" font-size="13.6" font-weight="normal" text-anchor="start" fill="#000" font-family='"Liberation Sans", sans-serif' textLength="200.4" lengthAdjust="spacingAndGlyphs" transform="rotate(-90 420.7 536.8)" >oligomerisation state (MEU value)</text>
<text x="489.1" y="490.9" font-size="13.3" font-weight="bold" text-anchor="end" fill="#000" font-family='"Liberation Sans", sans-serif' >monomer</text>
<line x1="492.7" y1="487.1" x2="496.4" y2="487.1" stroke="#222" stroke-width="1.3"/>
<line x1="495.2" y1="487.1" x2="751.7" y2="487.1" stroke="#222" stroke-width="1.5" stroke-dasharray="5.7 2.54"/>
<text x="489.1" y="454.1" font-size="13.3" font-weight="bold" text-anchor="end" fill="#000" font-family='"Liberation Sans", sans-serif' >dimer</text>
<line x1="492.7" y1="450.3" x2="496.4" y2="450.3" stroke="#222" stroke-width="1.3"/>
<line x1="495.2" y1="450.3" x2="751.7" y2="450.3" stroke="#222" stroke-width="1.5" stroke-dasharray="5.7 2.54"/>
<text x="489.1" y="417.3" font-size="13.3" font-weight="bold" text-anchor="end" fill="#000" font-family='"Liberation Sans", sans-serif' >trimer</text>
<line x1="492.7" y1="413.5" x2="496.4" y2="413.5" stroke="#222" stroke-width="1.3"/>
<line x1="495.2" y1="413.5" x2="751.7" y2="413.5" stroke="#222" stroke-width="1.5" stroke-dasharray="5.7 2.54"/>
<text x="489.1" y="380.5" font-size="13.3" font-weight="bold" text-anchor="end" fill="#000" font-family='"Liberation Sans", sans-serif' >tetramer</text>
<line x1="492.7" y1="376.7" x2="496.4" y2="376.7" stroke="#222" stroke-width="1.3"/>
<line x1="495.2" y1="376.7" x2="599.0" y2="376.7" stroke="#222" stroke-width="1.5" stroke-dasharray="5.7 2.54"/>
<text x="489.1" y="343.7" font-size="13.3" font-weight="bold" text-anchor="end" fill="#000" font-family='"Liberation Sans", sans-serif' >pentamer</text>
<line x1="492.7" y1="339.9" x2="496.4" y2="339.9" stroke="#222" stroke-width="1.3"/>
<line x1="495.2" y1="339.9" x2="599.0" y2="339.9" stroke="#222" stroke-width="1.5" stroke-dasharray="5.7 2.54"/>
<line x1="500.0" y1="476.6" x2="751.7" y2="476.6" stroke="#000" stroke-width="1.25" stroke-dasharray="2.9 3.3"/>
<text x="754.2" y="481.6" font-size="12.8" font-weight="normal" text-anchor="start" fill="#000" font-family='"Liberation Sans", sans-serif' textLength="32" lengthAdjust="spacingAndGlyphs" >1.274</text>
<line x1="496.4" y1="339.9" x2="496.4" y2="527.6" stroke="#1a1a1a" stroke-width="1.4"/>
<line x1="492.9" y1="523.9" x2="752.0" y2="523.9" stroke="#1a1a1a" stroke-width="1.4"/>
<line x1="496.4" y1="523.9" x2="496.4" y2="527.4" stroke="#222" stroke-width="1.3"/>
<text x="496.4" y="541.3" font-size="11.8" font-weight="bold" text-anchor="middle" fill="#000" font-family='"Liberation Sans", sans-serif' textLength="7.2" lengthAdjust="spacingAndGlyphs" >0</text>
<line x1="581.6" y1="523.9" x2="581.6" y2="527.4" stroke="#222" stroke-width="1.3"/>
<text x="581.6" y="541.3" font-size="11.8" font-weight="bold" text-anchor="middle" fill="#000" font-family='"Liberation Sans", sans-serif' textLength="14.4" lengthAdjust="spacingAndGlyphs" >30</text>
<line x1="666.8" y1="523.9" x2="666.8" y2="527.4" stroke="#222" stroke-width="1.3"/>
<text x="666.8" y="541.3" font-size="11.8" font-weight="bold" text-anchor="middle" fill="#000" font-family='"Liberation Sans", sans-serif' textLength="14.4" lengthAdjust="spacingAndGlyphs" >60</text>
<line x1="752.0" y1="523.9" x2="752.0" y2="527.4" stroke="#222" stroke-width="1.3"/>
<text x="752.0" y="541.3" font-size="11.8" font-weight="bold" text-anchor="middle" fill="#000" font-family='"Liberation Sans", sans-serif' textLength="14.4" lengthAdjust="spacingAndGlyphs" >90</text>
<text x="587.3" y="561.0" font-size="13.2" font-weight="normal" text-anchor="start" fill="#000" font-family='"Liberation Sans", sans-serif' textLength="90" lengthAdjust="spacingAndGlyphs" >receptors.µm⁻²</text>
<circle cx="589.5" cy="467.0" r="3.45" fill="none" stroke="#000" stroke-width="1.15"/>
<circle cx="613.5" cy="471.2" r="3.45" fill="none" stroke="#000" stroke-width="1.15"/>
<circle cx="569.9" cy="475.3" r="3.45" fill="none" stroke="#000" stroke-width="1.15"/>
<circle cx="548.6" cy="480.9" r="3.45" fill="none" stroke="#000" stroke-width="1.15"/>
<circle cx="554.7" cy="482.4" r="3.45" fill="none" stroke="#000" stroke-width="1.15"/>
<circle cx="557.7" cy="488.0" r="3.45" fill="none" stroke="#000" stroke-width="1.15"/>
<circle cx="577.5" cy="494.6" r="3.45" fill="none" stroke="#000" stroke-width="1.15"/>
<circle cx="612.4" cy="493.6" r="3.45" fill="none" stroke="#000" stroke-width="1.15"/>
<circle cx="571.4" cy="490.5" r="3.45" fill="none" stroke="#000" stroke-width="1.15"/>
<circle cx="618.5" cy="484.3" r="3.45" fill="none" stroke="#000" stroke-width="1.15"/>
<circle cx="646.9" cy="465.8" r="3.45" fill="none" stroke="#000" stroke-width="1.15"/>
<circle cx="654.2" cy="465.2" r="3.45" fill="none" stroke="#000" stroke-width="1.15"/>
<circle cx="642.5" cy="470.9" r="3.45" fill="none" stroke="#000" stroke-width="1.15"/>
<circle cx="623.4" cy="471.8" r="3.45" fill="none" stroke="#000" stroke-width="1.15"/>
<circle cx="660.2" cy="476.0" r="3.45" fill="none" stroke="#000" stroke-width="1.15"/>
<circle cx="659.6" cy="480.4" r="3.45" fill="none" stroke="#000" stroke-width="1.15"/>
<circle cx="669.3" cy="476.9" r="3.45" fill="none" stroke="#000" stroke-width="1.15"/>
<circle cx="688.7" cy="476.0" r="3.45" fill="none" stroke="#000" stroke-width="1.15"/>
<circle cx="687.5" cy="484.9" r="3.45" fill="none" stroke="#000" stroke-width="1.15"/>
<circle cx="693.2" cy="486.8" r="3.45" fill="none" stroke="#000" stroke-width="1.15"/>
<circle cx="643.1" cy="489.3" r="3.45" fill="none" stroke="#000" stroke-width="1.15"/>
<circle cx="652.0" cy="490.6" r="3.45" fill="none" stroke="#000" stroke-width="1.15"/>
<circle cx="660.8" cy="486.1" r="3.45" fill="none" stroke="#000" stroke-width="1.15"/>
<circle cx="664.6" cy="487.4" r="3.45" fill="none" stroke="#000" stroke-width="1.15"/>
<circle cx="679.8" cy="484.9" r="3.45" fill="none" stroke="#000" stroke-width="1.15"/>
<circle cx="636.8" cy="484.2" r="3.45" fill="none" stroke="#000" stroke-width="1.15"/>
<circle cx="726.5" cy="487.3" r="3.45" fill="none" stroke="#000" stroke-width="1.15"/>
<circle cx="576.0" cy="480.0" r="3.9" fill="#000"/>
<circle cx="584.0" cy="480.0" r="3.9" fill="#000"/>
<circle cx="592.0" cy="480.0" r="3.9" fill="#000"/>
<circle cx="600.0" cy="480.0" r="3.9" fill="#000"/>
<circle cx="608.0" cy="480.0" r="3.9" fill="#000"/>
<circle cx="570.0" cy="484.0" r="3.9" fill="#000"/>
<circle cx="574.0" cy="484.0" r="3.9" fill="#000"/>
<circle cx="578.0" cy="484.0" r="3.9" fill="#000"/>
<circle cx="582.0" cy="484.0" r="3.9" fill="#000"/>
<circle cx="586.0" cy="484.0" r="3.9" fill="#000"/>
<circle cx="590.0" cy="484.0" r="3.9" fill="#000"/>
<circle cx="594.0" cy="484.0" r="3.9" fill="#000"/>
<circle cx="598.0" cy="484.0" r="3.9" fill="#000"/>
<circle cx="602.0" cy="484.0" r="3.9" fill="#000"/>
<circle cx="606.0" cy="484.0" r="3.9" fill="#000"/>
<circle cx="610.0" cy="484.0" r="3.9" fill="#000"/>
<circle cx="614.0" cy="484.0" r="3.9" fill="#000"/>
<circle cx="572.0" cy="488.0" r="3.9" fill="#000"/>
<circle cx="576.0" cy="488.0" r="3.9" fill="#000"/>
<circle cx="580.0" cy="488.0" r="3.9" fill="#000"/>
<circle cx="584.0" cy="488.0" r="3.9" fill="#000"/>
<circle cx="588.0" cy="488.0" r="3.9" fill="#000"/>
<circle cx="592.0" cy="488.0" r="3.9" fill="#000"/>
<circle cx="596.0" cy="488.0" r="3.9" fill="#000"/>
<circle cx="600.0" cy="488.0" r="3.9" fill="#000"/>
<circle cx="604.0" cy="488.0" r="3.9" fill="#000"/>
<circle cx="608.0" cy="488.0" r="3.9" fill="#000"/>
<circle cx="612.0" cy="488.0" r="3.9" fill="#000"/>
<circle cx="578.0" cy="492.0" r="3.9" fill="#000"/>
<circle cx="586.0" cy="492.0" r="3.9" fill="#000"/>
<circle cx="594.0" cy="492.0" r="3.9" fill="#000"/>
<circle cx="602.0" cy="492.0" r="3.9" fill="#000"/>
<circle cx="628.0" cy="478.5" r="3.9" fill="#000"/>
<circle cx="633.0" cy="478.5" r="3.9" fill="#000"/>
<circle cx="637.0" cy="478.5" r="3.9" fill="#000"/>
<circle cx="621.0" cy="482.5" r="3.9" fill="#000"/>
<circle cx="625.0" cy="482.5" r="3.9" fill="#000"/>
<circle cx="629.0" cy="482.5" r="3.9" fill="#000"/>
<circle cx="633.0" cy="482.5" r="3.9" fill="#000"/>
<circle cx="637.0" cy="482.5" r="3.9" fill="#000"/>
<circle cx="620.0" cy="486.5" r="3.9" fill="#000"/>
<circle cx="624.0" cy="486.5" r="3.9" fill="#000"/>
<circle cx="628.0" cy="486.5" r="3.9" fill="#000"/>
<circle cx="632.0" cy="486.5" r="3.9" fill="#000"/>
<circle cx="636.0" cy="486.5" r="3.9" fill="#000"/>
<circle cx="622.0" cy="490.5" r="3.9" fill="#000"/>
<circle cx="626.0" cy="490.5" r="3.9" fill="#000"/>
<circle cx="630.0" cy="490.5" r="3.9" fill="#000"/>
<circle cx="634.0" cy="490.5" r="3.9" fill="#000"/>
<circle cx="552.7" cy="476.8" r="3.9" fill="#000"/>
<circle cx="563.5" cy="475.8" r="3.9" fill="#000"/>
<circle cx="581.1" cy="476.8" r="3.9" fill="#000"/>
<circle cx="597.3" cy="473.3" r="3.9" fill="#000"/>
<circle cx="608.5" cy="475.3" r="3.9" fill="#000"/>
<circle cx="600.3" cy="495.1" r="3.9" fill="#000"/>
<circle cx="570.4" cy="484.4" r="3.9" fill="#000"/>
<circle cx="574.5" cy="481.4" r="3.9" fill="#000"/>
<circle cx="582.6" cy="483.4" r="3.9" fill="#000"/>
<circle cx="590.7" cy="481.4" r="3.9" fill="#000"/>
<circle cx="596.8" cy="478.3" r="3.9" fill="#000"/>
<circle cx="604.9" cy="480.4" r="3.9" fill="#000"/>
<circle cx="613.0" cy="479.3" r="3.9" fill="#000"/>
<circle cx="613.0" cy="487.5" r="3.9" fill="#000"/>
<circle cx="609.0" cy="488.5" r="3.9" fill="#000"/>
<circle cx="600.9" cy="487.5" r="3.9" fill="#000"/>
<circle cx="592.7" cy="489.5" r="3.9" fill="#000"/>
<circle cx="584.6" cy="490.5" r="3.9" fill="#000"/>
<circle cx="578.5" cy="488.5" r="3.9" fill="#000"/>
<circle cx="573.5" cy="489.5" r="3.9" fill="#000"/>
<circle cx="582.6" cy="493.5" r="3.9" fill="#000"/>
<circle cx="590.7" cy="493.5" r="3.9" fill="#000"/>
<circle cx="599.8" cy="495.1" r="3.9" fill="#000"/>
<circle cx="604.9" cy="484.4" r="3.9" fill="#000"/>
<circle cx="596.8" cy="484.4" r="3.9" fill="#000"/>
<circle cx="588.7" cy="486.4" r="3.9" fill="#000"/>
<circle cx="639.9" cy="473.4" r="3.9" fill="#000"/>
<circle cx="607.6" cy="474.7" r="3.9" fill="#000"/>
<circle cx="629.2" cy="477.2" r="3.9" fill="#000"/>
<circle cx="631.7" cy="477.9" r="3.9" fill="#000"/>
<circle cx="643.1" cy="480.4" r="3.9" fill="#000"/>
<circle cx="671.0" cy="481.1" r="3.9" fill="#000"/>
<circle cx="678.6" cy="481.1" r="3.9" fill="#000"/>
<circle cx="651.3" cy="486.8" r="3.9" fill="#000"/>
<circle cx="622.8" cy="491.8" r="3.9" fill="#000"/>
<circle cx="630.4" cy="489.3" r="3.9" fill="#000"/>
<circle cx="612.7" cy="480.4" r="3.9" fill="#000"/>
<circle cx="610.1" cy="488.0" r="3.9" fill="#000"/>
<circle cx="601.3" cy="493.1" r="3.9" fill="#000"/>
<circle cx="625.3" cy="483.0" r="3.9" fill="#000"/>
<text x="237.5" y="74.0" font-size="10.8" font-weight="normal" text-anchor="start" fill="#000" font-family='"Liberation Sans", sans-serif' textLength="58" lengthAdjust="spacingAndGlyphs" transform="rotate(-90 237.5 74.0)" >Percentage of</text>
<text x="251.0" y="83.2" font-size="10.8" font-weight="normal" text-anchor="start" fill="#000" font-family='"Liberation Sans", sans-serif' textLength="75.6" lengthAdjust="spacingAndGlyphs" transform="rotate(-90 251.0 83.2)" >monomer / dimer</text>
<line x1="271.9" y1="82.5" x2="274.9" y2="82.5" stroke="#222" stroke-width="1.2"/>
<text x="272.1" y="85.8" font-size="9.3" font-weight="normal" text-anchor="end" fill="#000" font-family='"Liberation Sans", sans-serif' >0</text>
<line x1="271.9" y1="68.7" x2="274.9" y2="68.7" stroke="#222" stroke-width="1.2"/>
<text x="272.1" y="72.0" font-size="9.3" font-weight="normal" text-anchor="end" fill="#000" font-family='"Liberation Sans", sans-serif' >20</text>
<line x1="271.9" y1="54.9" x2="274.9" y2="54.9" stroke="#222" stroke-width="1.2"/>
<text x="272.1" y="58.2" font-size="9.3" font-weight="normal" text-anchor="end" fill="#000" font-family='"Liberation Sans", sans-serif' >40</text>
<line x1="271.9" y1="41.1" x2="274.9" y2="41.1" stroke="#222" stroke-width="1.2"/>
<text x="272.1" y="44.4" font-size="9.3" font-weight="normal" text-anchor="end" fill="#000" font-family='"Liberation Sans", sans-serif' >60</text>
<line x1="271.9" y1="27.3" x2="274.9" y2="27.3" stroke="#222" stroke-width="1.2"/>
<text x="272.1" y="30.6" font-size="9.3" font-weight="normal" text-anchor="end" fill="#000" font-family='"Liberation Sans", sans-serif' >80</text>
<line x1="271.9" y1="13.5" x2="274.9" y2="13.5" stroke="#222" stroke-width="1.2"/>
<text x="272.1" y="16.8" font-size="9.3" font-weight="normal" text-anchor="end" fill="#000" font-family='"Liberation Sans", sans-serif' >100</text>
<line x1="274.9" y1="13.5" x2="274.9" y2="82.5" stroke="#333" stroke-width="1.3"/>
<line x1="274.9" y1="82.5" x2="379.4" y2="82.5" stroke="#222" stroke-width="1.3"/>
<rect x="279.2" y="36.1" width="17.8" height="46.4" fill="#000"/>
<text x="288.1" y="64.4" font-size="10" font-weight="normal" text-anchor="middle" fill="#fff" font-family='"Liberation Serif", serif' >I</text>
<rect x="304.9" y="61.1" width="18.5" height="21.4" fill="#000"/>
<text x="314.1" y="76.0" font-size="10" font-weight="normal" text-anchor="middle" fill="#fff" font-family='"Liberation Serif", serif' >II+</text>
<rect x="331.4" y="64.9" width="16.7" height="17.6" fill="#fff" stroke="#000" stroke-width="1.3"/>
<text x="339.8" y="77.0" font-size="10" font-weight="normal" text-anchor="middle" fill="#000" font-family='"Liberation Serif", serif' >I</text>
<rect x="357.8" y="32.1" width="16.7" height="50.4" fill="#fff" stroke="#000" stroke-width="1.3"/>
<text x="366.1" y="62.6" font-size="10" font-weight="normal" text-anchor="middle" fill="#000" font-family='"Liberation Serif", serif' >II+</text>
<text x="295.4" y="93.0" font-size="9.5" font-weight="normal" text-anchor="start" fill="#000" font-family='"Liberation Sans", sans-serif' textLength="10.8" lengthAdjust="spacingAndGlyphs" >UT</text>
<text x="327.8" y="93.0" font-size="9.5" font-weight="normal" text-anchor="start" fill="#000" font-family='"Liberation Sans", sans-serif' textLength="47.4" lengthAdjust="spacingAndGlyphs" >Pirenzepine</text>
<text x="619.7" y="76.0" font-size="10.8" font-weight="normal" text-anchor="start" fill="#000" font-family='"Liberation Sans", sans-serif' textLength="60.2" lengthAdjust="spacingAndGlyphs" transform="rotate(-90 619.7 76.0)" >Percentage of</text>
<text x="633.7" y="84.9" font-size="10.8" font-weight="normal" text-anchor="start" fill="#000" font-family='"Liberation Sans", sans-serif' textLength="78.2" lengthAdjust="spacingAndGlyphs" transform="rotate(-90 633.7 84.9)" >monomer / dimer</text>
<line x1="654.4" y1="84.2" x2="657.4" y2="84.2" stroke="#222" stroke-width="1.2"/>
<text x="654.6" y="87.5" font-size="9.3" font-weight="normal" text-anchor="end" fill="#000" font-family='"Liberation Sans", sans-serif' >0</text>
<line x1="654.4" y1="70.1" x2="657.4" y2="70.1" stroke="#222" stroke-width="1.2"/>
<text x="654.6" y="73.4" font-size="9.3" font-weight="normal" text-anchor="end" fill="#000" font-family='"Liberation Sans", sans-serif' >20</text>
<line x1="654.4" y1="56.0" x2="657.4" y2="56.0" stroke="#222" stroke-width="1.2"/>
<text x="654.6" y="59.3" font-size="9.3" font-weight="normal" text-anchor="end" fill="#000" font-family='"Liberation Sans", sans-serif' >40</text>
<line x1="654.4" y1="42.0" x2="657.4" y2="42.0" stroke="#222" stroke-width="1.2"/>
<text x="654.6" y="45.3" font-size="9.3" font-weight="normal" text-anchor="end" fill="#000" font-family='"Liberation Sans", sans-serif' >60</text>
<line x1="654.4" y1="27.9" x2="657.4" y2="27.9" stroke="#222" stroke-width="1.2"/>
<text x="654.6" y="31.2" font-size="9.3" font-weight="normal" text-anchor="end" fill="#000" font-family='"Liberation Sans", sans-serif' >80</text>
<line x1="654.4" y1="13.8" x2="657.4" y2="13.8" stroke="#222" stroke-width="1.2"/>
<text x="654.6" y="17.1" font-size="9.3" font-weight="normal" text-anchor="end" fill="#000" font-family='"Liberation Sans", sans-serif' >100</text>
<line x1="657.4" y1="13.8" x2="657.4" y2="84.2" stroke="#333" stroke-width="1.3"/>
<line x1="657.4" y1="84.2" x2="763.8" y2="84.2" stroke="#222" stroke-width="1.3"/>
<rect x="661.0" y="19.4" width="18.7" height="64.8" fill="#000"/>
<text x="670.4" y="57.0" font-size="10" font-weight="normal" text-anchor="middle" fill="#fff" font-family='"Liberation Serif", serif' >I</text>
<rect x="687.7" y="78.7" width="18.4" height="5.5" fill="#000"/>
<text x="696.9" y="76.0" font-size="10" font-weight="normal" text-anchor="middle" fill="#000" font-family='"Liberation Serif", serif' >II+</text>
<rect x="715.1" y="57.0" width="16.5" height="27.2" fill="#fff" stroke="#000" stroke-width="1.3"/>
<text x="723.4" y="76.0" font-size="10" font-weight="normal" text-anchor="middle" fill="#000" font-family='"Liberation Serif", serif' >I</text>
<rect x="740.9" y="42.8" width="17.0" height="41.4" fill="#fff" stroke="#000" stroke-width="1.3"/>
<text x="749.4" y="69.0" font-size="10" font-weight="normal" text-anchor="middle" fill="#000" font-family='"Liberation Serif", serif' >II+</text>
<text x="677.6" y="94.0" font-size="9.5" font-weight="normal" text-anchor="start" fill="#000" font-family='"Liberation Sans", sans-serif' textLength="11.4" lengthAdjust="spacingAndGlyphs" >UT</text>
<text x="711.0" y="94.0" font-size="9.5" font-weight="normal" text-anchor="start" fill="#000" font-family='"Liberation Sans", sans-serif' textLength="48" lengthAdjust="spacingAndGlyphs" >Telenzepine</text>
<text x="237.0" y="387.5" font-size="10.8" font-weight="normal" text-anchor="start" fill="#000" font-family='"Liberation Sans", sans-serif' textLength="59.8" lengthAdjust="spacingAndGlyphs" transform="rotate(-90 237.0 387.5)" >Percentage of</text>
<text x="251.1" y="395.5" font-size="10.8" font-weight="normal" text-anchor="start" fill="#000" font-family='"Liberation Sans", sans-serif' textLength="76.4" lengthAdjust="spacingAndGlyphs" transform="rotate(-90 251.1 395.5)" >monomer / dimer</text>
<line x1="270.7" y1="395.0" x2="273.7" y2="395.0" stroke="#222" stroke-width="1.2"/>
<text x="270.9" y="398.3" font-size="9.3" font-weight="normal" text-anchor="end" fill="#000" font-family='"Liberation Sans", sans-serif' >0</text>
<line x1="270.7" y1="381.2" x2="273.7" y2="381.2" stroke="#222" stroke-width="1.2"/>
<text x="270.9" y="384.5" font-size="9.3" font-weight="normal" text-anchor="end" fill="#000" font-family='"Liberation Sans", sans-serif' >20</text>
<line x1="270.7" y1="367.5" x2="273.7" y2="367.5" stroke="#222" stroke-width="1.2"/>
<text x="270.9" y="370.8" font-size="9.3" font-weight="normal" text-anchor="end" fill="#000" font-family='"Liberation Sans", sans-serif' >40</text>
<line x1="270.7" y1="353.7" x2="273.7" y2="353.7" stroke="#222" stroke-width="1.2"/>
<text x="270.9" y="357.0" font-size="9.3" font-weight="normal" text-anchor="end" fill="#000" font-family='"Liberation Sans", sans-serif' >60</text>
<line x1="270.7" y1="340.0" x2="273.7" y2="340.0" stroke="#222" stroke-width="1.2"/>
<text x="270.9" y="343.3" font-size="9.3" font-weight="normal" text-anchor="end" fill="#000" font-family='"Liberation Sans", sans-serif' >80</text>
<line x1="270.7" y1="326.2" x2="273.7" y2="326.2" stroke="#222" stroke-width="1.2"/>
<text x="270.9" y="329.5" font-size="9.3" font-weight="normal" text-anchor="end" fill="#000" font-family='"Liberation Sans", sans-serif' >100</text>
<line x1="273.7" y1="326.2" x2="273.7" y2="395.0" stroke="#333" stroke-width="1.3"/>
<line x1="273.7" y1="395.0" x2="379.7" y2="395.0" stroke="#222" stroke-width="1.3"/>
<rect x="278.2" y="340.0" width="18.2" height="55.0" fill="#000"/>
<text x="287.3" y="372.0" font-size="10" font-weight="normal" text-anchor="middle" fill="#fff" font-family='"Liberation Serif", serif' >I</text>
<rect x="304.4" y="379.4" width="18.3" height="15.6" fill="#000"/>
<text x="313.5" y="389.0" font-size="10" font-weight="normal" text-anchor="middle" fill="#fff" font-family='"Liberation Serif", serif' >II+</text>
<rect x="331.8" y="330.8" width="16.5" height="64.2" fill="#fff" stroke="#000" stroke-width="1.3"/>
<text x="340.0" y="369.0" font-size="10" font-weight="normal" text-anchor="middle" fill="#000" font-family='"Liberation Serif", serif' >I</text>
<rect x="357.9" y="390.1" width="16.5" height="4.9" fill="#fff" stroke="#000" stroke-width="1.3"/>
<text x="366.2" y="386.0" font-size="10" font-weight="normal" text-anchor="middle" fill="#000" font-family='"Liberation Serif", serif' >II+</text>
<text x="294.1" y="405.8" font-size="9.5" font-weight="normal" text-anchor="start" fill="#000" font-family='"Liberation Sans", sans-serif' textLength="12.1" lengthAdjust="spacingAndGlyphs" >UT</text>
<text x="333.6" y="405.8" font-size="9.5" font-weight="normal" text-anchor="start" fill="#000" font-family='"Liberation Sans", sans-serif' textLength="36.5" lengthAdjust="spacingAndGlyphs" >Atropine</text>
<text x="622.3" y="386.4" font-size="10.8" font-weight="normal" text-anchor="start" fill="#000" font-family='"Liberation Sans", sans-serif' textLength="59.6" lengthAdjust="spacingAndGlyphs" transform="rotate(-90 622.3 386.4)" >Percentage of</text>
<text x="636.0" y="395.5" font-size="10.8" font-weight="normal" text-anchor="start" fill="#000" font-family='"Liberation Sans", sans-serif' textLength="75.9" lengthAdjust="spacingAndGlyphs" transform="rotate(-90 636.0 395.5)" >monomer / dimer</text>
<line x1="655.9" y1="394.4" x2="658.9" y2="394.4" stroke="#222" stroke-width="1.2"/>
<text x="656.1" y="397.7" font-size="9.3" font-weight="normal" text-anchor="end" fill="#000" font-family='"Liberation Sans", sans-serif' >0</text>
<line x1="655.9" y1="380.6" x2="658.9" y2="380.6" stroke="#222" stroke-width="1.2"/>
<text x="656.1" y="383.9" font-size="9.3" font-weight="normal" text-anchor="end" fill="#000" font-family='"Liberation Sans", sans-serif' >20</text>
<line x1="655.9" y1="366.9" x2="658.9" y2="366.9" stroke="#222" stroke-width="1.2"/>
<text x="656.1" y="370.2" font-size="9.3" font-weight="normal" text-anchor="end" fill="#000" font-family='"Liberation Sans", sans-serif' >40</text>
<line x1="655.9" y1="353.1" x2="658.9" y2="353.1" stroke="#222" stroke-width="1.2"/>
<text x="656.1" y="356.4" font-size="9.3" font-weight="normal" text-anchor="end" fill="#000" font-family='"Liberation Sans", sans-serif' >60</text>
<line x1="655.9" y1="339.4" x2="658.9" y2="339.4" stroke="#222" stroke-width="1.2"/>
<text x="656.1" y="342.7" font-size="9.3" font-weight="normal" text-anchor="end" fill="#000" font-family='"Liberation Sans", sans-serif' >80</text>
<line x1="655.9" y1="325.6" x2="658.9" y2="325.6" stroke="#222" stroke-width="1.2"/>
<text x="656.1" y="328.9" font-size="9.3" font-weight="normal" text-anchor="end" fill="#000" font-family='"Liberation Sans", sans-serif' >100</text>
<line x1="658.9" y1="325.6" x2="658.9" y2="394.4" stroke="#333" stroke-width="1.3"/>
<line x1="658.9" y1="394.4" x2="765.4" y2="394.4" stroke="#222" stroke-width="1.3"/>
<rect x="663.4" y="329.4" width="18.3" height="65.0" fill="#000"/>
<text x="672.5" y="369.0" font-size="10" font-weight="normal" text-anchor="middle" fill="#fff" font-family='"Liberation Serif", serif' >I</text>
<rect x="690.1" y="389.4" width="18.3" height="5.0" fill="#000"/>
<text x="699.2" y="386.0" font-size="10" font-weight="normal" text-anchor="middle" fill="#000" font-family='"Liberation Serif", serif' >II+</text>
<rect x="717.0" y="336.2" width="16.9" height="58.2" fill="#fff" stroke="#000" stroke-width="1.3"/>
<text x="725.5" y="371.0" font-size="10" font-weight="normal" text-anchor="middle" fill="#000" font-family='"Liberation Serif", serif' >I</text>
<rect x="743.9" y="382.7" width="16.7" height="11.7" fill="#fff" stroke="#000" stroke-width="1.3"/>
<text x="752.3" y="391.0" font-size="10" font-weight="normal" text-anchor="middle" fill="#000" font-family='"Liberation Serif", serif' >II+</text>
<text x="679.9" y="405.0" font-size="9.5" font-weight="normal" text-anchor="start" fill="#000" font-family='"Liberation Sans", sans-serif' textLength="11.4" lengthAdjust="spacingAndGlyphs" >UT</text>
<text x="727.3" y="405.0" font-size="9.5" font-weight="normal" text-anchor="start" fill="#000" font-family='"Liberation Sans", sans-serif' textLength="21" lengthAdjust="spacingAndGlyphs" >NMS</text>
</svg></body></html>
